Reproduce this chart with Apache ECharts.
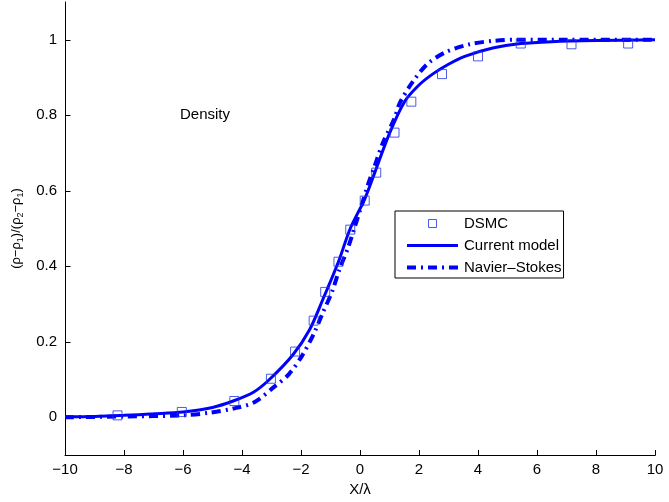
<!DOCTYPE html>
<html>
<head>
<meta charset="utf-8">
<script src="https://cdn.jsdelivr.net/npm/echarts@6/dist/echarts.min.js"></script>
<style>html,body{margin:0;padding:0;background:#fff}#c{width:669px;height:502px}</style>
</head>
<body>
<div id="c"></div>
<script>
// DSMC points
const dsmcX = [-8.22, -6.04, -4.26, -3.02, -2.2, -1.57, -1.18, -0.73, -0.33, 0.16, 0.55, 1.17, 1.74, 2.78, 4.0, 5.45, 7.17, 9.09];
const dsmcY = [0.005, 0.014, 0.043, 0.102, 0.174, 0.256, 0.332, 0.412, 0.497, 0.574, 0.648, 0.754, 0.836, 0.909, 0.956, 0.990, 0.988, 0.990];
// Current model curve
const modelX = [-10, -9, -8, -7, -6, -5, -4.3, -3.6, -3.07, -2.28, -1.71, -1.26, -0.73, -0.33, 0.16, 0.5, 1.0, 1.51, 2.0, 2.46, 3.0, 3.55, 4.5, 5.45, 6.5, 8, 10];
const modelY = [0.001, 0.002, 0.005, 0.009, 0.014, 0.026, 0.043, 0.067, 0.1, 0.165, 0.232, 0.312, 0.412, 0.5, 0.578, 0.648, 0.752, 0.836, 0.88, 0.909, 0.935, 0.956, 0.978, 0.99, 0.995, 0.998, 1.0];
// Navier-Stokes curve
const nsX = [-10, -8, -6, -5.1, -4.3, -3.6, -2.9, -2.4, -1.94, -1.55, -1.26, -0.95, -0.7, -0.41, -0.19, 0.04, 0.27, 0.49, 0.77, 1.17, 1.34, 1.79, 2.3, 2.93, 3.72, 4.51, 5.3, 7, 10];
const nsY = [0.0, 0.002, 0.005, 0.012, 0.023, 0.039, 0.081, 0.115, 0.166, 0.224, 0.277, 0.332, 0.391, 0.448, 0.501, 0.558, 0.616, 0.664, 0.726, 0.792, 0.831, 0.889, 0.937, 0.968, 0.988, 0.997, 1.0, 1.0, 1.0];
// Tick labels
const xTicks = [-10, -8, -6, -4, -2, 0, 2, 4, 6, 8, 10];
const yTicks = [0, 0.2, 0.4, 0.6, 0.8, 1];
const seriesNames = ['DSMC', 'Current model', 'Navier\u2013Stokes'];

const X_MIN = -10, X_MAX = 10, Y_MIN = -0.1, Y_MAX = 1.1;

const zip = (a, b) => a.map((v, i) => [v, b[i]]);
const fmt = v => String(v).replace('-', '\u2212');
const FONT = 'Liberation Sans, Arial, sans-serif';
const FS = 15;
const BLUE = '#0000ff';
const SQ = '#2233dd';
const NS_DASH = [9, 5, 2, 5];
const TICK_LEN = 5;

const hidden = {color: 'rgba(0,0,0,0)', borderWidth: 0, opacity: 0};
const tickStyle = {show: true, inside: true, length: TICK_LEN, lineStyle: {color: '#000', width: 1}};

// inward tick marks placed through the axis scales
function tickRenderer(dir) {
  return function (params, api) {
    const p = api.coord([api.value(0), api.value(1)]);
    const x = Math.round(p[0]) + 0.5, y = Math.round(p[1]) + 0.5;
    const shape = dir === 'x'
      ? {x1: x, y1: y, x2: x, y2: y - TICK_LEN}
      : {x1: x, y1: y, x2: x + TICK_LEN, y2: y};
    return {type: 'line', shape: shape, style: {stroke: '#000', lineWidth: 1}};
  };
}

const chart = echarts.init(document.getElementById('c'), null, {renderer: 'canvas'});
chart.setOption({
  animation: false,
  backgroundColor: '#fff',
  grid: {left: 65, right: 14, top: 2, bottom: 46, containLabel: false},
  xAxis: {
    type: 'value', min: X_MIN, max: X_MAX, interval: 2,
    name: 'X/\u03bb', nameLocation: 'middle', nameGap: 27,
    nameTextStyle: {fontFamily: FONT, fontSize: FS, color: '#000'},
    axisLine: {show: true, onZero: false, lineStyle: {color: '#000', width: 1}},
    axisTick: Object.assign({}, tickStyle),
    axisLabel: {fontFamily: FONT, fontSize: FS, color: '#000', margin: 7, formatter: fmt},
    splitLine: {show: false}
  },
  yAxis: {
    type: 'value', min: Y_MIN, max: Y_MAX,
    name: '(\u03c1\u2212\u03c1{s|1})/(\u03c1{s|2}\u2212\u03c1{s|1})',
    nameLocation: 'middle', nameGap: 23, nameRotate: 90,
    nameTextStyle: {fontFamily: FONT, fontSize: 13, color: '#000',
      rich: {s: {fontFamily: FONT, fontSize: 9, color: '#000', verticalAlign: 'bottom', padding: [8, 0, 0, 0]}}},
    axisLine: {show: true, onZero: false, lineStyle: {color: '#000', width: 1}},
    axisTick: Object.assign({customValues: yTicks}, tickStyle),
    axisLabel: {fontFamily: FONT, fontSize: FS, color: '#000', margin: 8, customValues: yTicks, formatter: fmt},
    splitLine: {show: false}
  },
  legend: {
    orient: 'vertical', left: 395, top: 211,
    padding: [5, 2, 3, 10], itemGap: 7,
    itemWidth: 51, itemHeight: 8,
    backgroundColor: '#fff', borderColor: '#000', borderWidth: 1,
    textStyle: {fontFamily: FONT, fontSize: FS, color: '#000', padding: [0, 0, 0, 1]},
    data: [
      {name: seriesNames[0], icon: 'path://M0,0L10,0L10,10L0,10Z',
        itemStyle: {color: 'rgba(0,0,0,0)', borderColor: SQ, borderWidth: 1}},
      {name: seriesNames[1], itemStyle: hidden, lineStyle: {width: 3, color: BLUE}},
      {name: seriesNames[2], itemStyle: hidden, lineStyle: {width: 4, color: BLUE, type: NS_DASH}}
    ]
  },
  graphic: [{
    type: 'text', left: 180, top: 107,
    style: {text: 'Density', fontFamily: FONT, fontSize: FS, fill: '#000'}
  }],
  series: [
    {
      name: seriesNames[1], type: 'line', data: zip(modelX, modelY), smooth: 0.3,
      showSymbol: false, symbol: 'none', z: 3,
      lineStyle: {color: BLUE, width: 3}, itemStyle: {color: BLUE}
    },
    {
      name: seriesNames[2], type: 'line', data: zip(nsX, nsY), smooth: 0.3,
      showSymbol: false, symbol: 'none', z: 2,
      lineStyle: {color: BLUE, width: 4, type: NS_DASH}, itemStyle: {color: BLUE}
    },
    {
      name: seriesNames[0], type: 'scatter', data: zip(dsmcX, dsmcY), z: 4,
      symbol: 'rect', symbolSize: 9,
      itemStyle: {color: 'rgba(0,0,0,0)', borderColor: SQ, borderWidth: 1}
    },
    {
      type: 'custom', coordinateSystem: 'cartesian2d', silent: true, clip: false, z: 1,
      data: xTicks.map(v => [v, Y_MIN]), renderItem: tickRenderer('x'), tooltip: {show: false}
    },
    {
      type: 'custom', coordinateSystem: 'cartesian2d', silent: true, clip: false, z: 1,
      data: yTicks.map(v => [X_MIN, v]), renderItem: tickRenderer('y'), tooltip: {show: false}
    }
  ]
});
</script>
</body>
</html>
